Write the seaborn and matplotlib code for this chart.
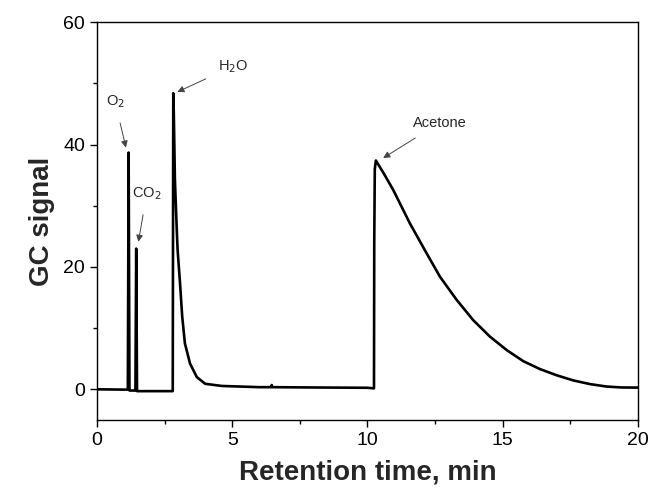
import matplotlib
matplotlib.use("Agg")
import matplotlib.pyplot as plt
import seaborn as sns
import pandas as pd
from matplotlib.ticker import MultipleLocator

# Chromatogram trace
time_min = [0.0, 1.0, 1.14, 1.17, 1.20, 1.42, 1.45, 1.48, 2.0, 2.80, 2.82,
            2.84, 2.88, 2.95, 2.98, 3.07, 3.15, 3.25, 3.44, 3.69, 4.00, 4.61,
            6.0, 6.44, 6.46, 6.48, 8.0, 10.0, 10.24, 10.25, 10.27, 10.31,
            10.60, 10.95, 11.57, 12.19, 12.68, 13.30, 13.91, 14.53, 15.15,
            15.76, 16.38, 16.99, 17.61, 18.23, 18.84, 19.4, 20.0]
gc_signal = [0.0, -0.05, -0.05, 38.7, -0.2, -0.2, 23.0, -0.3, -0.3, -0.3, 48.4,
             45.0, 34.3, 26.0, 22.8, 17.3, 11.9, 7.5, 4.2, 2.0, 0.9, 0.55,
             0.35, 0.35, 0.7, 0.35, 0.3, 0.25, 0.15, 24.0, 36.0, 37.4,
             35.3, 32.6, 27.1, 22.2, 18.4, 14.6, 11.3, 8.6, 6.4,
             4.6, 3.3, 2.3, 1.45, 0.85, 0.45, 0.3, 0.28]

# Peak annotations: label, text position, arrow tip
peak_labels = ["O$_2$", "CO$_2$", "H$_2$O", "Acetone"]
label_xy = [(0.67, 47.0), (1.84, 32.0), (5.03, 52.8), (12.68, 43.6)]
arrow_tip = [(1.07, 39.5), (1.53, 24.1), (2.97, 48.6), (10.58, 37.8)]

x_ticks = [0, 5, 10, 15, 20]
y_ticks = [0, 20, 40, 60]

df = pd.DataFrame({"t": time_min, "s": gc_signal})

sns.set_theme(style="ticks")
plt.rcParams["font.family"] = ["Liberation Sans", "DejaVu Sans"]

fig = plt.figure(figsize=(6.51, 4.94), dpi=100)
ax = fig.add_axes([0.149, 0.150, 0.831, 0.805])

sns.lineplot(data=df, x="t", y="s", ax=ax, estimator=None, sort=False,
             color="black", linewidth=1.9)

ax.set_xlim(0, 20)
ax.set_ylim(-5, 60)
ax.set_xticks(x_ticks)
ax.set_yticks(y_ticks)
ax.xaxis.set_minor_locator(MultipleLocator(2.5))
ax.yaxis.set_minor_locator(MultipleLocator(10))
ax.tick_params(which="major", direction="out", length=5, width=1,
               labelsize=14, colors="black", pad=3.5)
ax.tick_params(which="minor", direction="out", length=3, width=1,
               colors="black")
for sp in ax.spines.values():
    sp.set_visible(True)
    sp.set_color("black")
    sp.set_linewidth(1.0)

ax.set_xlabel("Retention time, min", fontsize=20, fontweight="bold",
              labelpad=8)
ax.set_ylabel("GC signal", fontsize=20, fontweight="bold", labelpad=6)

for lab, (tx, ty), (ax_, ay) in zip(peak_labels, label_xy, arrow_tip):
    ax.annotate(lab, xy=(ax_, ay), xytext=(tx, ty), fontsize=10.5,
                ha="center", va="center",
                arrowprops=dict(arrowstyle="-|>", color="#444444", lw=0.7,
                                mutation_scale=10, shrinkA=7, shrinkB=0))

fig.savefig("out.png", dpi=100)
